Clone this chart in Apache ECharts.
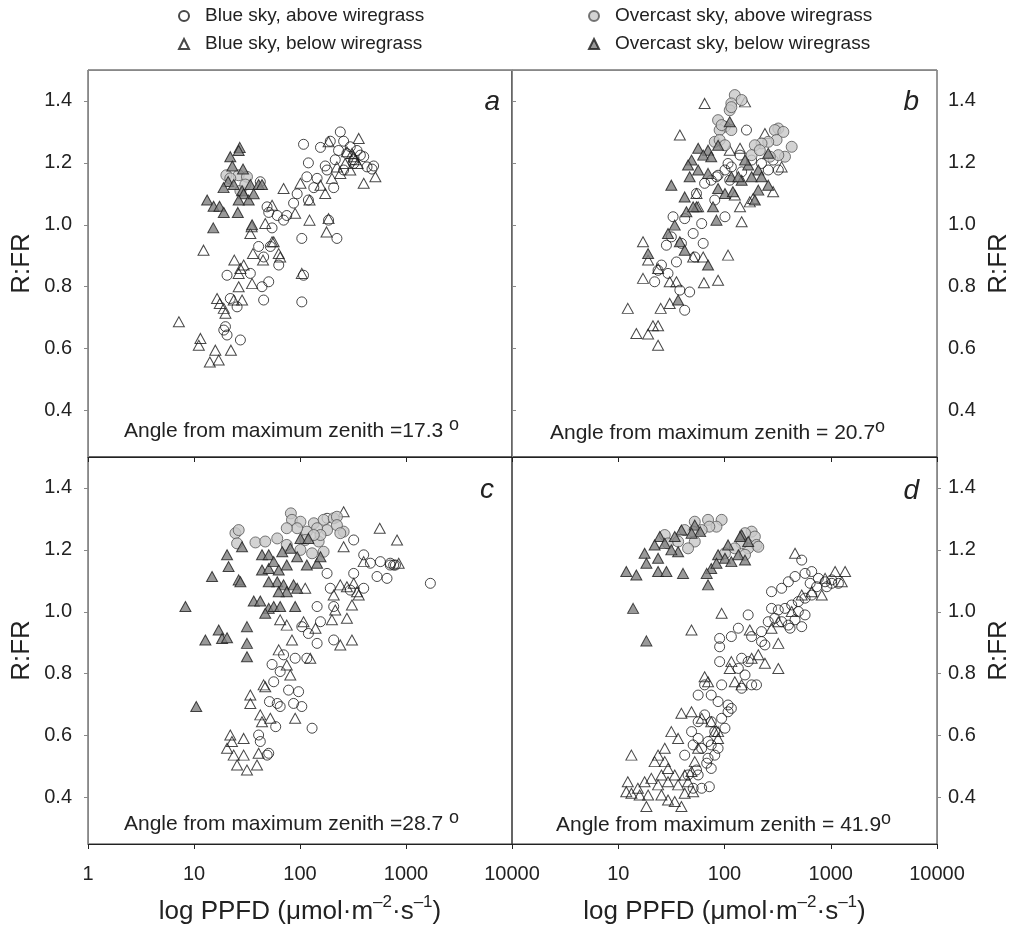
<!DOCTYPE html>
<html><head><meta charset="utf-8">
<script src="https://cdn.jsdelivr.net/npm/echarts@6.0.0/dist/echarts.min.js"></script>
<style>html,body{margin:0;padding:0;background:#fff}#chart{width:1013px;height:930px}</style>
</head><body><div id="chart"></div>
<script>
// ---------- labels ----------
const seriesNames = ['Blue sky, above wiregrass', 'Blue sky, below wiregrass', 'Overcast sky, above wiregrass', 'Overcast sky, below wiregrass'];
const panelLetters = ['a', 'b', 'c', 'd'];
const zenithLabels = ['=17.3 ', '= 20.7', '=28.7 ', '= 41.9'];
const yTickValues = [0.4, 0.6, 0.8, 1.0, 1.2, 1.4];
const xTickValues = [1, 10, 100, 1000, 10000];
const yAxisTitle = 'R:FR';
const xAxisTitle = 'log PPFD (\u03bcmol\u00b7m{sup|\u20132}\u00b7s{sup|\u20131})';

// ---------- data: [PPFD, R:FR] ----------
const aBlueAbove = [[108,1.26],[240,1.30],[193,1.27],[258,1.27],[156,1.25],[120,1.20],[173,1.19],[215,1.21],[321,1.21],[495,1.19],[478,1.18],[116,1.155],[145,1.15],[208,1.12],[94,1.10],[87,1.07],[135,1.12],[120,1.08],[75,1.03],[61,1.03],[50.7,1.04],[54.5,0.99],[40.7,0.93],[52.5,0.93],[63,0.87],[104,0.956],[186,1.015],[223,0.956],[45.4,0.896],[20.5,0.837],[34,0.843],[50.7,0.816],[43.8,0.80],[45.4,0.757],[104,0.751],[108,0.837],[25.5,0.735],[22,0.762],[19.8,0.671],[20.5,0.644],[27.4,0.628],[19.1,0.66],[42.2,1.139],[48.9,1.058],[70,1.015],[321,1.198],[298,1.252],[399,1.22],[429,1.187],[180,1.177],[258,1.177],[345,1.24],[371,1.225],[277,1.23],[231,1.24]];
const aBlueBelow = [[7.2,0.687],[11.5,0.633],[11.1,0.611],[15.9,0.595],[14.1,0.557],[17.1,0.563],[22.3,0.595],[16.5,0.762],[17.5,0.746],[19.1,0.73],[19.8,0.714],[23.7,0.757],[28.4,0.757],[26.4,0.80],[35.3,0.81],[26.4,0.843],[24,0.886],[29.4,0.87],[27.4,0.859],[36,0.907],[44.8,0.886],[54.5,0.945],[56.5,0.945],[63,0.907],[65,0.896],[34,0.972],[35,0.994],[47,1.004],[54.5,1.063],[90,1.037],[123,1.015],[178,0.977],[186,1.02],[104,0.843],[70,1.117],[101,1.134],[123,1.08],[156,1.128],[173,1.101],[200,1.15],[240,1.166],[298,1.177],[358,1.279],[399,1.134],[514,1.155],[186,1.268],[277,1.236],[321,1.22],[350,1.198],[12.3,0.918],[309,1.23],[333,1.21],[267,1.198],[223,1.187]];
const aOverAbove = [[20.2,1.16],[26.4,1.16],[22,1.15],[31.6,1.155],[27.4,1.11],[30.5,1.13]];
const aOverBelow = [[27,1.25],[22,1.22],[26.4,1.24],[23,1.19],[29,1.18],[21,1.14],[19,1.12],[23.7,1.13],[28.4,1.11],[34,1.13],[40.7,1.13],[43.8,1.13],[29.4,1.10],[32.8,1.08],[36.6,1.10],[26.4,1.08],[13.3,1.08],[15.3,1.06],[17.4,1.06],[19.1,1.04],[25.9,1.04],[15.2,0.99],[35.3,1.00]];

const bBlueAbove = [[161,1.306],[140,1.225],[108,1.198],[101,1.177],[84,1.155],[65,1.134],[54.5,1.101],[81,1.08],[32.8,1.026],[42.2,1.02],[61,1.004],[101,1.026],[50.7,0.972],[63,0.94],[39.3,0.94],[28.4,0.934],[23.7,0.853],[29.4,0.843],[22,0.816],[35.3,0.88],[38,0.789],[47,0.783],[42.2,0.724],[31.6,0.961],[116,1.187],[145,1.171],[180,1.209],[223,1.198],[287,1.209],[258,1.177],[321,1.177],[87,1.16],[75,1.144],[112,1.144],[52.5,0.896],[25.5,0.87]];
const bBlueBelow = [[65,1.392],[156,1.397],[38,1.29],[112,1.241],[140,1.247],[240,1.295],[54.5,1.101],[140,1.058],[145,1.01],[56.5,1.058],[17.1,0.945],[19.1,0.886],[17.1,0.827],[23.7,0.859],[30.5,0.816],[35.3,0.816],[64,0.813],[87,0.821],[108,0.902],[12.3,0.73],[25.1,0.73],[30.5,0.746],[14.8,0.649],[19.1,0.647],[21.2,0.674],[23.7,0.674],[23.7,0.611],[50.7,0.896],[63,0.896],[345,1.187],[173,1.074],[186,1.085],[125,1.096],[287,1.107]];
const bOverAbove = [[125,1.419],[145,1.403],[116,1.392],[87,1.338],[101,1.317],[116,1.306],[90,1.306],[112,1.37],[116,1.38],[81,1.268],[90,1.274],[321,1.311],[298,1.306],[358,1.30],[309,1.274],[258,1.268],[223,1.263],[193,1.257],[429,1.252],[371,1.22],[321,1.225],[267,1.22],[180,1.225],[215,1.241],[101,1.257],[94,1.322]];
const bOverBelow = [[112,1.333],[87,1.257],[56.5,1.247],[70,1.241],[63,1.225],[75,1.22],[49,1.209],[45.4,1.193],[56.5,1.177],[47,1.155],[70,1.166],[31.6,1.128],[42.2,1.09],[54.5,1.058],[78,1.058],[43.8,1.042],[34,0.999],[29.4,0.972],[38,0.945],[19.1,0.907],[70,0.87],[36.6,0.757],[87,1.117],[101,1.101],[120,1.107],[145,1.144],[167,1.193],[208,1.177],[258,1.231],[258,1.128],[208,1.112],[193,1.08],[156,1.209],[116,1.155],[135,1.155],[180,1.155],[223,1.155],[50.7,1.058],[84,1.015],[42.2,0.918]];

const cBlueAbove = [[1698,1.092],[321,1.232],[399,1.184],[461,1.157],[573,1.162],[662,1.108],[533,1.114],[765,1.151],[710,1.151],[321,1.124],[399,1.076],[298,1.07],[180,1.124],[193,1.076],[145,1.017],[208,1.017],[156,0.968],[208,0.909],[145,0.898],[104,0.952],[120,0.93],[116,0.85],[90,0.85],[70,0.861],[54.5,0.83],[65,0.807],[56.5,0.774],[78,0.747],[97,0.742],[51.5,0.71],[61,0.704],[65,0.694],[87,0.704],[104,0.694],[59,0.629],[40.7,0.602],[42.2,0.581],[50.7,0.543],[49,0.537],[130,0.624],[180,1.302],[710,1.157],[795,1.151]];
const cBlueBelow = [[258,1.323],[565,1.27],[823,1.232],[258,1.21],[321,1.092],[277,1.081],[345,1.065],[358,1.054],[309,1.022],[277,0.979],[240,1.087],[208,1.054],[215,1.006],[200,0.974],[309,0.909],[240,0.893],[112,1.076],[84,0.909],[75,0.957],[65,0.974],[108,0.968],[140,0.947],[125,0.85],[75,0.828],[81,0.796],[45.4,0.764],[47,0.758],[34,0.731],[34,0.704],[42.2,0.667],[43.8,0.645],[52.5,0.656],[90,0.656],[22,0.602],[22.8,0.581],[29.4,0.591],[20.5,0.559],[23.7,0.537],[29.4,0.537],[25.5,0.505],[31.6,0.489],[39.3,0.505],[40.7,0.543],[63,0.877],[399,1.162],[853,1.157]];
const cOverAbove = [[82,1.318],[84,1.297],[101,1.291],[135,1.286],[167,1.297],[208,1.302],[223,1.307],[258,1.259],[180,1.264],[145,1.27],[116,1.259],[94,1.27],[75,1.27],[24.6,1.254],[26.4,1.264],[25.5,1.221],[38,1.224],[47,1.227],[75,1.216],[112,1.232],[150,1.227],[167,1.194],[130,1.189],[101,1.20],[61,1.237],[223,1.28],[240,1.254],[156,1.248],[135,1.248]];
const cOverBelow = [[20.5,1.184],[21.2,1.146],[28.4,1.21],[14.8,1.114],[26.4,1.103],[27.4,1.097],[43.8,1.184],[50.7,1.184],[43.8,1.135],[50.7,1.14],[56.5,1.162],[63,1.135],[75,1.151],[94,1.178],[116,1.151],[145,1.157],[156,1.178],[61,1.097],[50.7,1.097],[70,1.087],[87,1.087],[94,1.076],[36.6,1.035],[42.2,1.035],[50.7,1.011],[56.5,1.017],[65,1.017],[90,1.017],[47,0.995],[8.3,1.017],[12.8,0.909],[17.1,0.941],[18.4,0.914],[20.5,0.916],[31.6,0.952],[31.6,0.898],[31.6,0.855],[10.5,0.694],[101,1.237],[120,1.237],[75,1.065],[63,1.065],[81,1.205],[68,1.194]];

const dBlueAbove = [[533,1.167],[277,1.065],[345,1.076],[399,1.097],[461,1.114],[573,1.124],[662,1.13],[765,1.108],[885,1.097],[1021,1.092],[1181,1.092],[1021,1.103],[918,1.081],[662,1.054],[573,1.044],[495,1.033],[429,1.022],[371,1.011],[321,1.006],[298,0.979],[345,0.968],[399,0.957],[461,0.974],[533,0.952],[414,0.947],[258,0.968],[167,0.99],[135,0.947],[116,0.92],[90,0.914],[90,0.887],[90,0.839],[180,0.92],[223,0.904],[240,0.893],[145,0.85],[167,0.839],[135,0.817],[156,0.796],[180,0.764],[145,0.753],[200,0.764],[94,0.764],[65,0.764],[56.5,0.731],[75,0.731],[87,0.71],[108,0.699],[108,0.677],[94,0.656],[101,0.624],[81,0.613],[65,0.667],[56.5,0.645],[49,0.613],[56.5,0.591],[50.7,0.57],[61,0.559],[75,0.57],[81,0.537],[68,0.511],[75,0.494],[56.5,0.473],[72,0.435],[61,0.43],[50.7,0.43],[45.4,0.473],[54.5,0.489],[42.2,0.537],[70,0.527],[116,0.688],[75,0.645],[223,0.936],[277,1.011],[640,1.092],[738,1.081],[495,1.001],[573,0.99],[87,0.559],[70,0.581]];
const dBlueBelow = [[461,1.189],[1365,1.13],[1099,1.13],[1270,1.097],[94,0.995],[48.9,0.941],[173,0.941],[321,0.898],[240,0.834],[321,0.817],[116,0.839],[65,0.79],[70,0.774],[125,0.774],[145,0.764],[39.3,0.672],[48.9,0.677],[61,0.656],[75,0.645],[81,0.613],[87,0.613],[31.6,0.613],[36.6,0.591],[27.4,0.559],[23.7,0.537],[22,0.516],[27.4,0.516],[29.4,0.494],[34,0.473],[25.5,0.473],[20.5,0.462],[17.7,0.451],[15.3,0.43],[12.3,0.451],[11.9,0.419],[13.3,0.414],[15.9,0.408],[19.1,0.408],[18.4,0.371],[25.5,0.408],[29.4,0.392],[34,0.387],[39.3,0.371],[42.2,0.414],[50.7,0.419],[45.4,0.451],[13.3,0.537],[23.7,0.441],[29.4,0.451],[36.6,0.441],[42.2,0.473],[48.9,0.484],[52.5,0.516],[56.5,0.559],[87,0.591],[533,1.054],[662,1.065],[823,1.054],[321,0.968],[277,0.947],[429,1.001],[885,1.108],[112,0.817],[180,0.85],[208,0.861]];
const dOverAbove = [[52.5,1.291],[70,1.297],[94,1.297],[84,1.275],[72,1.275],[61,1.264],[50.7,1.259],[42.2,1.264],[27.4,1.248],[29.4,1.221],[36.6,1.227],[52.5,1.227],[45.4,1.205],[180,1.259],[193,1.243],[200,1.216],[167,1.205],[156,1.184],[145,1.221],[125,1.205],[101,1.189],[156,1.254],[208,1.21]];
const dOverBelow = [[52.5,1.28],[59,1.259],[49,1.254],[39.3,1.264],[34,1.243],[24.6,1.243],[27.4,1.221],[22,1.216],[17.7,1.189],[23.7,1.173],[18.4,1.157],[11.9,1.13],[14.8,1.119],[23.7,1.13],[28.4,1.13],[40.7,1.124],[70,1.087],[75,1.14],[87,1.184],[101,1.173],[116,1.162],[135,1.184],[145,1.248],[167,1.227],[156,1.167],[140,1.243],[68,1.124],[84,1.157],[13.8,1.011],[18.4,0.906],[36.6,1.194],[31.6,1.20],[108,1.216]];

const panelData = [
  [aBlueAbove, aBlueBelow, aOverAbove, aOverBelow],
  [bBlueAbove, bBlueBelow, bOverAbove, bOverBelow],
  [cBlueAbove, cBlueBelow, cOverAbove, cOverBelow],
  [dBlueAbove, dBlueBelow, dOverAbove, dOverBelow]
];

// ---------- layout / style ----------
const FONT = "'Liberation Sans', Arial, Helvetica, sans-serif";
const TXT = '#222';
const grids = [
  {left: 88, top: 70, width: 424, height: 387},
  {left: 512, top: 70, width: 425, height: 387},
  {left: 88, top: 457, width: 424, height: 387},
  {left: 512, top: 457, width: 425, height: 387}
];
const markStyles = [
  {symbol: 'circle', symbolSize: 10, itemStyle: {color: 'rgba(255,255,255,0)', borderColor: '#1a1a1a', borderWidth: 1}},
  {symbol: 'triangle', symbolSize: [11, 10], itemStyle: {color: 'rgba(255,255,255,0)', borderColor: '#1a1a1a', borderWidth: 1}},
  {symbol: 'circle', symbolSize: 11, itemStyle: {color: '#c8c8c8', borderColor: '#555', borderWidth: 1}},
  {symbol: 'triangle', symbolSize: [11, 10], itemStyle: {color: '#7f7f7f', borderColor: '#1a1a1a', borderWidth: 1}}
];
const letterPos = [[12, 32], [18, 32], [18, 33], [18, 34]];   // offset from right / top
const anglePos = [[36, 26], [38, 24], [36, 20], [44, 19]];    // offset from left / bottom

const chart = echarts.init(document.getElementById('chart'), null, {renderer: 'canvas'});

const xAxes = [], yAxes = [], series = [], graphics = [];
grids.forEach((g, p) => {
  const bottomRow = p >= 2;
  xAxes.push({
    type: 'log', logBase: 10, gridIndex: p, min: xTickValues[0], max: xTickValues[xTickValues.length - 1],
    axisLine: {show: true, lineStyle: {color: '#222', width: 1}},
    axisTick: {show: true, inside: false, length: 5, lineStyle: {color: '#222'}},
    minorTick: {show: false},
    axisLabel: {show: bottomRow, fontSize: 20, color: TXT, fontFamily: FONT, margin: 20,
      formatter: v => { const r = Math.round(v); return (p === 3 && r === 1) ? '' : String(r); }},
    splitLine: {show: false},
    name: bottomRow ? xAxisTitle : '', nameLocation: 'middle', nameGap: 50,
    nameTextStyle: {fontSize: 26, color: TXT, fontFamily: FONT, lineHeight: 36,
      rich: {sup: {fontSize: 17, lineHeight: 22, verticalAlign: 'top', color: TXT, fontFamily: FONT}}}
  });
  const right = p % 2 === 1;
  yAxes.push({
    type: 'value', gridIndex: p, min: 0.25, max: 1.5, position: right ? 'right' : 'left',
    axisLine: {show: true, lineStyle: {color: '#888', width: 1}},
    axisTick: {show: true, inside: false, length: 4, customValues: yTickValues, lineStyle: {color: '#888'}},
    axisLabel: {customValues: yTickValues, fontSize: 20, color: TXT, fontFamily: FONT, margin: right ? 11 : 16,
      formatter: v => v.toFixed(1)},
    splitLine: {show: false},
    name: yAxisTitle, nameLocation: 'middle', nameRotate: 90, nameGap: right ? 49 : 53,
    nameTextStyle: {fontSize: 26, color: TXT, fontFamily: FONT, lineHeight: 26}
  });
  [0, 1, 2, 3].forEach(t => {
    series.push(Object.assign({
      type: 'scatter', name: seriesNames[t], xAxisIndex: p, yAxisIndex: p,
      data: panelData[p][t], z: 2 + t, emphasis: {disabled: true}
    }, JSON.parse(JSON.stringify(markStyles[t]))));
  });
  graphics.push({
    type: 'text', x: g.left + g.width - letterPos[p][0], y: g.top + letterPos[p][1],
    style: {text: panelLetters[p], fontSize: 28, fontStyle: 'italic', fontFamily: FONT, fill: TXT,
      align: 'right', verticalAlign: 'middle'}
  });
  graphics.push({
    type: 'text', x: g.left + anglePos[p][0], y: g.top + g.height - anglePos[p][1],
    style: {text: 'Angle from maximum zenith ' + zenithLabels[p] + '{sup|o}', fontSize: 21, fontFamily: FONT, fill: TXT,
      lineHeight: 30, align: 'left', verticalAlign: 'middle',
      rich: {sup: {fontSize: 18, lineHeight: 20, verticalAlign: 'top', fontFamily: FONT, fill: TXT}}}
  });
});
// gray top frame lines for the upper panels
[0, 1].forEach(p => {
  xAxes.push({type: 'value', gridIndex: p, position: 'top', min: 0, max: 1,
    axisLine: {show: true, lineStyle: {color: '#888', width: 1}}, axisTick: {show: false},
    axisLabel: {show: false}, splitLine: {show: false}});
});

const legendCommon = {
  orient: 'vertical', top: 1, itemWidth: 10, itemHeight: 10, itemGap: 8,
  selectedMode: false,
  textStyle: {fontSize: 19, color: TXT, fontFamily: FONT, lineHeight: 20, padding: [0, 0, 0, 11]}
};

chart.setOption({
  animation: false,
  backgroundColor: '#fff',
  grid: grids.map(g => Object.assign({show: true, borderColor: '#333', borderWidth: 1, backgroundColor: 'transparent', outerBoundsMode: 'none', containLabel: false}, g)),
  legend: [
    Object.assign({left: 173, data: [seriesNames[0], seriesNames[1]]}, legendCommon),
    Object.assign({left: 583, data: [seriesNames[2], seriesNames[3]]}, legendCommon)
  ],
  xAxis: xAxes,
  yAxis: yAxes,
  series: series,
  graphic: graphics
});
</script>
</body></html>
